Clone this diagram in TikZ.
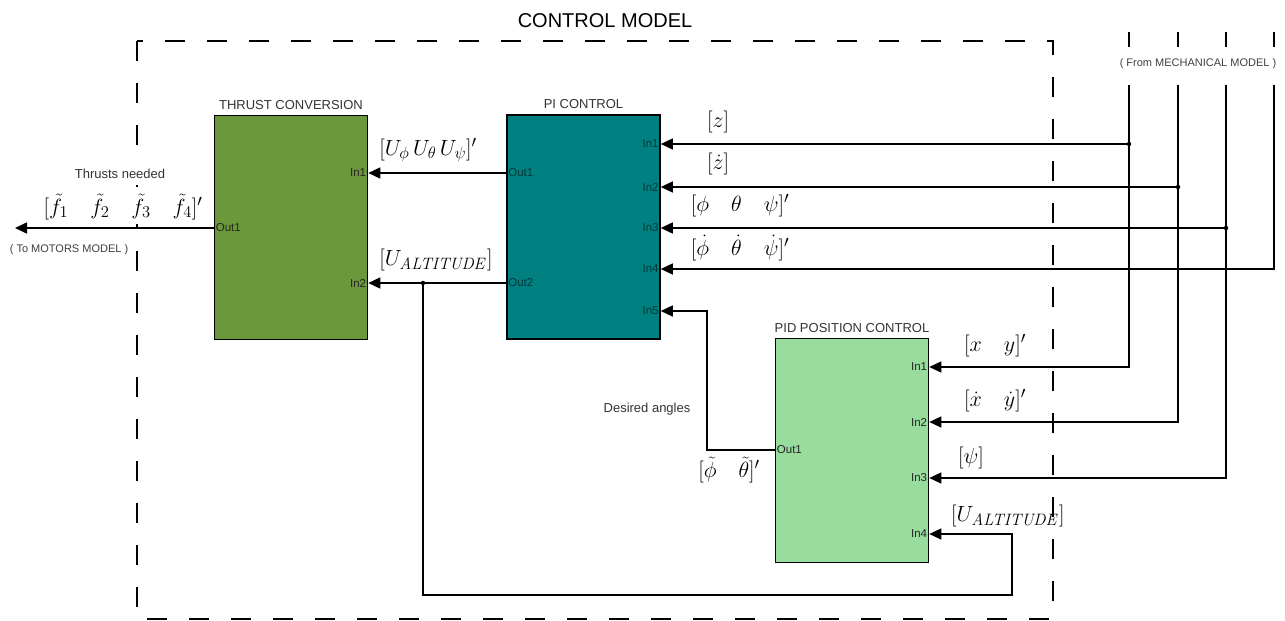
\RequirePackage{fix-cm}
\documentclass[tikz,border=0pt]{standalone}
\usepackage[no-math]{fontspec}
\setmainfont{Liberation Sans}
\DeclareMathSizes{22}{22}{16.5}{12}
\usetikzlibrary{positioning,arrows.meta}
\definecolor{thrustgreen}{HTML}{6B983A}
\definecolor{piteal}{HTML}{008080}
\definecolor{pidgreen}{HTML}{98DC9E}
\begin{document}
\begin{tikzpicture}[x=1pt,y=-1pt,
    block/.style={draw, line width=1.6pt, minimum width=153pt, minimum height=224pt, inner sep=0pt},
    title/.style={font=\fontsize{13}{15}\selectfont, text=black!80},
    port/.style={font=\fontsize{11.5}{13}\selectfont, inner sep=2pt, anchor=east, text=black!85},
    oport/.style={port, anchor=west},
    sig/.style={line width=1.6pt, -{Triangle[length=12pt,width=11pt]}},
    wire/.style={line width=1.6pt},
    lab/.style={font=\fontsize{22}{26}\selectfont, inner sep=0pt},
    note/.style={font=\fontsize{11}{13}\selectfont, text=black!75, fill=white, inner xsep=1pt, inner ysep=8pt},
    dot/.style={circle, fill, inner sep=0pt, minimum size=4.5pt}]
  \useasboundingbox (0,0) rectangle (1285,621);
  \draw[wire, dash pattern=on 20pt off 22pt] (137,41) rectangle (1053,619);
  \node[font=\fontsize{20}{24}\selectfont] (model) at (605,21) {CONTROL MODEL};

  \node[block, fill=thrustgreen] (tc) at (291,227.5) {};
  \node[block, fill=piteal] (pi) at (583.5,227) {};
  \node[block, fill=pidgreen] (pid) at (852,450.5) {};
  \node[title, above=2pt of tc] (tctitle) {THRUST CONVERSION};
  \node[title, above=2pt of pi] (pititle) {PI CONTROL};
  \node[title, above=2pt of pid] (pidtitle) {PID POSITION CONTROL};

  \coordinate (tc-in1) at (tc.east |- 0,173);
  \coordinate (tc-in2) at (tc.east |- 0,283);
  \coordinate (tc-out1) at (tc.west |- 0,228);
  \coordinate (pi-in1) at (pi.east |- 0,144);
  \coordinate (pi-in2) at (pi.east |- 0,187);
  \coordinate (pi-in3) at (pi.east |- 0,228);
  \coordinate (pi-in4) at (pi.east |- 0,269);
  \coordinate (pi-in5) at (pi.east |- 0,311);
  \coordinate (pi-out1) at (pi.west |- 0,173);
  \coordinate (pi-out2) at (pi.west |- 0,283);
  \coordinate (pid-in1) at (pid.east |- 0,367);
  \coordinate (pid-in2) at (pid.east |- 0,422);
  \coordinate (pid-in3) at (pid.east |- 0,478);
  \coordinate (pid-in4) at (pid.east |- 0,534);
  \coordinate (pid-out1) at (pid.west |- 0,450);

  \node[port] at (tc-in1) {In1};
  \node[port] at (tc-in2) {In2};
  \node[oport] at (tc-out1) {Out1};
  \node[port, text=piteal!45!black] at (pi-in1) {In1};
  \node[port, text=piteal!45!black] at (pi-in2) {In2};
  \node[port, text=piteal!45!black] at (pi-in3) {In3};
  \node[port, text=piteal!45!black] at (pi-in4) {In4};
  \node[port, text=piteal!45!black] at (pi-in5) {In5};
  \node[oport, text=piteal!45!black] at (pi-out1) {Out1};
  \node[oport, text=piteal!45!black] at (pi-out2) {Out2};
  \node[port] at (pid-in1) {In1};
  \node[port] at (pid-in2) {In2};
  \node[port] at (pid-in3) {In3};
  \node[port] at (pid-in4) {In4};
  \node[oport] at (pid-out1) {Out1};

  \coordinate (motors) at (15,228);
  \coordinate (m1) at (1129,85);
  \coordinate (m2) at (1178,85);
  \coordinate (m3) at (1226,85);
  \coordinate (m4) at (1274,85);
  \coordinate (j1) at (m1 |- pi-in1);
  \coordinate (j2) at (m2 |- pi-in2);
  \coordinate (j3) at (m3 |- pi-in3);
  \coordinate (jalt) at (423,283);
  \coordinate (loop) at (1012,595);
  \coordinate (turn) at (707,311);

  \draw[wire] (1129,32) -- (1129,47);
  \draw[wire] (1178,32) -- (1178,47);
  \draw[wire] (1226,32) -- (1226,47);
  \draw[wire] (1274,32) -- (1274,47);
  \node[note, inner ysep=2pt] (mech) at (1198,64) {( From MECHANICAL MODEL )};
  \node[note] (tomotors) at (69,250) {( To MOTORS MODEL )};
  \node[title, fill=white, inner xsep=1pt, inner ysep=6pt] (thrusts) at (120,174) {Thrusts needed};
  \node[lab, fill=white, inner xsep=1pt, inner ysep=4pt] (lf) at (123,207) {$[\tilde f_1\quad \tilde f_2\quad \tilde f_3\quad \tilde f_4]'$};

  \draw[sig] (tc-out1) -- (motors);
  \draw[sig] (pi-out1) -- (tc-in1);
  \draw[sig] (pi-out2) -- (tc-in2);
  \draw[sig] (m1) |- (pid-in1);
  \draw[sig] (m2) |- (pid-in2);
  \draw[sig] (m3) |- (pid-in3);
  \draw[sig] (m4) |- (pi-in4);
  \draw[sig] (j1) -- (pi-in1);
  \draw[sig] (j2) -- (pi-in2);
  \draw[sig] (j3) -- (pi-in3);
  \draw[sig] (jalt) |- (loop) |- (pid-in4);
  \draw[sig] (pid-out1) -| (turn) -- (pi-in5);
  \node[dot] at (j1) {};
  \node[dot] at (j2) {};
  \node[dot] at (j3) {};
  \node[dot] at (jalt) {};

  \node[title] (desired) at (647,409) {Desired angles};
  \node[lab] (lu) at (428,150) {$[U_\phi\, U_\theta\, U_\psi]'$};
  \node[lab] (lalt) at (436,260) {$[U_{\mathit{ALTITUDE}}]$};
  \node[lab] (lz) at (718,122) {$[z]$};
  \node[lab] (lzd) at (718,164) {$[\dot z]$};
  \node[lab] (lang) at (740,206) {$[\phi\quad \theta\quad \psi]'$};
  \node[lab] (lrate) at (740,248) {$[\dot\phi\quad \dot\theta\quad \dot\psi]'$};
  \node[lab] (lxy) at (995,346) {$[x\quad y]'$};
  \node[lab] (lxyd) at (995,401) {$[\dot x\quad \dot y]'$};
  \node[lab] (lpsi) at (971,458) {$[\psi]$};
  \node[lab, anchor=west] (lalt2) at (951,516) {$[U_{\mathit{ALTITUDE}}]$};
  \node[lab] (ldes) at (729,470) {$[\tilde\phi\quad \tilde\theta]'$};
\end{tikzpicture}
\end{document}
